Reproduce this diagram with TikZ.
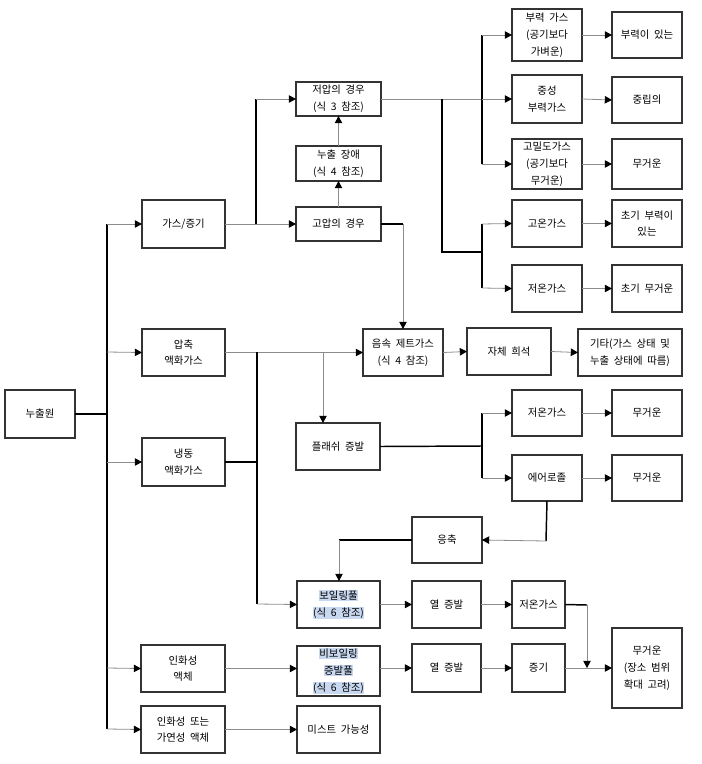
\documentclass[tikz,border=0pt]{standalone}
\usepackage{fontspec}
\setmainfont[WordSpace=2]{Noto Sans CJK KR}
\usetikzlibrary{arrows.meta}
\definecolor{hlblue}{RGB}{200,216,240}
\definecolor{thingray}{RGB}{140,140,140}
\newcommand\hlb[1]{{\setlength{\fboxsep}{0.4pt}\colorbox{hlblue}{#1}}}
\tikzset{
  box/.style={draw=black!80,line width=0.9pt,inner sep=0pt,outer sep=0pt,align=center,
     font=\fontsize{7.8}{12.6}\selectfont},
  arr/.style={draw=thingray,line width=0.6pt,-{Triangle[length=5.4pt,width=5.6pt,color=black]}},
  thin/.style={draw=thingray,line width=0.6pt},
  thick/.style={draw=black,line width=1.1pt},
}
\newcommand\bx[6]{\node[box,minimum width={(#4-#2)*0.75pt},minimum height={(#5-#3)*0.75pt}] (#1) at ({(#2+#4)/2},{(#3+#5)/2}) {#6};}
\begin{document}
\begin{tikzpicture}[x=0.75pt,y=-0.75pt]
\useasboundingbox (0,0) rectangle (702,764);
% boxes
\bx{src}{5}{390}{75}{438}{누출원}
\bx{gas}{142}{200}{225}{248}{가스/증기}
\bx{comp}{142}{329}{225}{376}{압축\\액화가스}
\bx{refr}{142}{438}{225}{486}{냉동\\액화가스}
\bx{flam}{141}{645}{225}{692}{인화성\\액체}
\bx{flamb}{141}{706}{225}{753}{인화성 또는\\가연성 액체}
\bx{low}{296}{82}{381}{116}{저압의 경우\\(식 3 참조)}
\bx{barrier}{296}{146}{381}{181}{누출 장애\\(식 4 참조)}
\bx{high}{296}{207}{381}{241}{고압의 경우}
\bx{buoy}{512}{9}{582}{61}{부력 가스\\(공기보다\\가벼운)}
\bx{buoyR}{612}{12}{682}{58}{부력이 있는}
\bx{neut}{512}{75}{582}{123}{중성\\부력가스}
\bx{neutR}{612}{77}{682}{123}{중립의}
\bx{dense}{512}{139}{582}{189}{고밀도가스\\(공기보다\\무거운)}
\bx{denseR}{612}{139}{682}{189}{무거운}
\bx{hot}{512}{200}{582}{247}{고온가스}
\bx{hotR}{612}{200}{682}{247}{초기 부력이\\있는}
\bx{cold}{512}{265}{582}{312}{저온가스}
\bx{coldR}{612}{265}{682}{312}{초기 무거운}
\bx{jet}{363}{329}{443}{376}{음속 제트가스\\(식 4 참조)}
\bx{dil}{467}{328}{551}{375}{자체 희석}
\bx{other}{578}{329}{682}{376}{기타(가스 상태 및\\누출 상태에 따름)}
\bx{flash}{296}{423}{380}{470}{플래쉬 증발}
\bx{coldb}{512}{390}{582}{436}{저온가스}
\bx{coldbR}{612}{390}{682}{436}{무거운}
\bx{aero}{512}{455}{582}{501}{에어로졸}
\bx{aeroR}{612}{455}{682}{501}{무거운}
\bx{cond}{412}{517}{482}{563}{응축}
\bx{boil}{297}{581}{380}{628}{\hlb{보일링풀}\\\hlb{(식 6 참조)}}
\bx{evapa}{412}{581}{481}{628}{열 증발}
\bx{coldc}{512}{581}{565}{628}{저온가스}
\bx{nonboil}{297}{646}{380}{696}{\hlb{비보일링}\\\hlb{증발풀}\\\hlb{(식 6 참조)}}
\bx{evapb}{412}{644}{481}{692}{열 증발}
\bx{vapor}{512}{644}{565}{692}{증기}
\bx{heavy}{612}{628}{682}{708}{무거운\\(장소 범위\\확대 고려)}
\bx{mist}{297}{706}{380}{753}{미스트 가능성}
% junction coordinates
\coordinate (t1) at (107,224);
\coordinate (t2) at (107,352);
\coordinate (t3) at (107,462);
\coordinate (t4) at (107,668);
\coordinate (t5) at (107,729);
\coordinate (ts) at (107,414);
\coordinate (g1) at (256,224);
\coordinate (g2) at (256,99);
\coordinate (l1) at (482,99);
\coordinate (l0) at (442,99);
\coordinate (l2) at (442,252);
\coordinate (l3) at (482,252);
\coordinate (b1) at (482,35);
\coordinate (b3) at (482,164);
\coordinate (h1) at (482,224);
\coordinate (h2) at (482,288);
\coordinate (j1) at (403,224);
\coordinate (c1) at (257,352);
\coordinate (c2) at (257,604);
\coordinate (c3) at (323,352);
\coordinate (r1) at (257,462);
\coordinate (f1) at (482,446);
\coordinate (f2) at (482,413);
\coordinate (f3) at (482,478);
\coordinate (a1) at (546,541);
\coordinate (k1) at (339,540);
\coordinate (s1) at (587,605);
\coordinate (s2) at (587,668);
% trunk
\draw[thick] (src.east) -- (ts);
\draw[thick] (t1) -- (t5);
\draw[arr] (t1) -- (gas.west);
\draw[arr] (t2) -- (comp.west);
\draw[arr] (t3) -- (refr.west);
\draw[arr] (t4) -- (flam.west);
\draw[arr] (t5) -- (flamb.west);
% gas branch
\draw[thin] (gas.east) -- (g1);
\draw[thick] (g1) -- (g2);
\draw[arr] (g2) -- (low.west);
\draw[arr] (g1) -- (high.west);
\draw[arr] (high.north) -- (barrier.south);
\draw[arr] (barrier.north) -- (low.south);
\draw[thin] (low.east) -- (l1);
\draw[thick] (l0) -- (l2) -- (l3);
\draw[line width=0.8pt] (b1) -- (b3);
\draw[arr] (b1) -- (buoy.west);
\draw[arr] (l1) -- (neut.west);
\draw[arr] (b3) -- (dense.west);
\draw[line width=0.8pt] (h1) -- (h2);
\draw[arr] (h1) -- (hot.west);
\draw[arr] (h2) -- (cold.west);
\draw[arr] (buoy.east) -- (buoyR.west);
\draw[arr] (neut.east) -- (neutR.west);
\draw[arr] (dense.east) -- (denseR.west);
\draw[arr] (hot.east) -- (hotR.west);
\draw[arr] (cold.east) -- (coldR.west);
\draw[thick] (high.east) -- (j1);
\draw[arr] (j1) -- (jet.north);
% compressed / refrigerated
\draw[arr] (comp.east) -- (jet.west);
\draw[thick] (c1) -- (c2);
\draw[arr] (c3) -- (c3 |- flash.north);
\draw[arr] (jet.east) -- (dil.west);
\draw[arr] (dil.east) -- (other.west);
\draw[thick] (refr.east) -- (r1);
\draw[arr] (c2) -- (boil.west);
% flash
\draw[thick] (flash.east) -- (f1);
\draw[thick] (f2) -- (f3);
\draw[arr] (f2) -- (coldb.west);
\draw[arr] (f3) -- (aero.west);
\draw[arr] (coldb.east) -- (coldbR.west);
\draw[arr] (aero.east) -- (aeroR.west);
\draw[thick] (aero.south) -- (a1);
\draw[arr] (a1) -- (cond.east);
\draw[thick] (cond.west) -- (k1);
\draw[arr] (k1) -- (k1 |- boil.north);
% pools
\draw[arr] (boil.east) -- (evapa.west);
\draw[arr] (evapa.east) -- (coldc.west);
\draw[thick] (coldc.east) -- (s1);
\draw[arr] (s1) -- (s2);
\draw[arr] (flam.east) -- (flam.east -| nonboil.west);
\draw[arr] (nonboil.east |- evapb.west) -- (evapb.west);
\draw[arr] (evapb.east) -- (vapor.west);
\draw[arr] (vapor.east) -- (heavy.west);
\draw[arr] (flamb.east) -- (mist.west);
\end{tikzpicture}
\end{document}
